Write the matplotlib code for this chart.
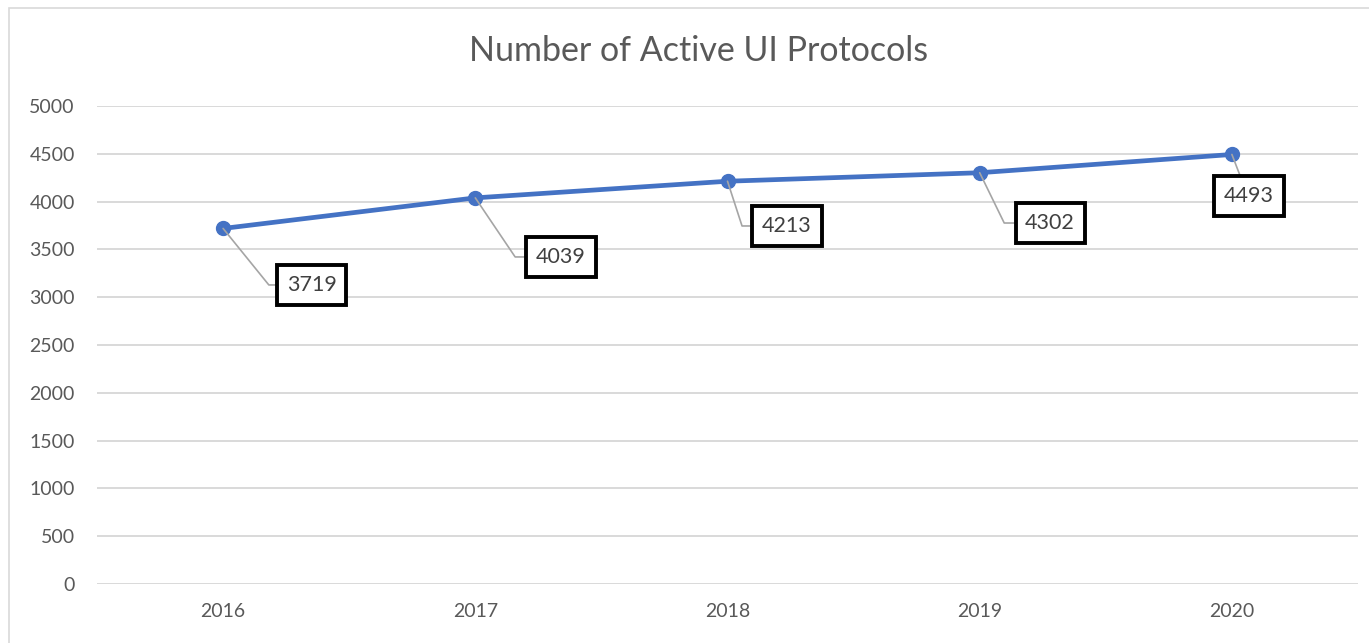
import matplotlib.pyplot as plt
from matplotlib.patches import Rectangle

years = ["2016", "2017", "2018", "2019", "2020"]
protocols = [3719, 4039, 4213, 4302, 4493]
yticks = [0, 500, 1000, 1500, 2000, 2500, 3000, 3500, 4000, 4500, 5000]

# label box placement (data coords) and leader-line settings
label_pos = [(0.352, 3128), (1.34, 3421), (2.236, 3745), (3.279, 3776), (4.068, 4059)]
label_rel = [(0, 0.5), (0, 0.5), (0, 0.5), (0, 0.5), (0.4, 1)]
label_conn = ["angle,angleA=0,angleB=-51", "angle,angleA=0,angleB=-56",
              "angle,angleA=0,angleB=-72", "angle,angleA=0,angleB=-64", "arc3"]

plt.rcParams['font.family'] = ['Lato', 'DejaVu Sans']

fig = plt.figure(figsize=(13.69, 6.43), dpi=100)
fig.patches.append(Rectangle((9 / 1369, -0.1), 1.2, 1.1 - 8 / 643, transform=fig.transFigure,
                             fill=False, edgecolor="#D9D9D9", linewidth=1.2))
ax = fig.add_axes([97 / 1369, 1 - 584 / 643, 1261 / 1369, 478 / 643])

x = list(range(len(years)))
ax.plot(x, protocols, color="#4472C4", linewidth=3.4, marker="o", markersize=10, zorder=3)

for i in range(len(years)):
    ax.annotate(str(protocols[i]), xy=(x[i], protocols[i]), xytext=label_pos[i],
                ha="center", va="center", fontsize=15.5, color="#404040",
                bbox=dict(boxstyle="square,pad=0.45", facecolor="white", edgecolor="black", linewidth=2.8),
                arrowprops=dict(arrowstyle="-", color="#A5A5A5", linewidth=1.2, shrinkA=0, shrinkB=0,
                                relpos=label_rel[i], connectionstyle=label_conn[i]),
                zorder=4)

ax.set_xlim(-0.5, 4.5)
ax.set_ylim(0, 5000)
ax.set_xticks(x)
ax.set_xticklabels(years)
ax.set_yticks(yticks)
ax.tick_params(axis="both", length=0, labelsize=14, labelcolor="#595959")
ax.tick_params(axis="y", pad=16)
ax.tick_params(axis="x", pad=14)
ax.grid(axis="y", color="#D9D9D9", linewidth=1.4)
ax.set_axisbelow(True)
for s in ax.spines.values():
    s.set_visible(False)

fig.text(699 / 1369, 1 - 51 / 643, "Number of Active UI Protocols", ha="center", va="center",
         fontsize=24.5, color="#595959")

fig.savefig("out.png", dpi=100)
